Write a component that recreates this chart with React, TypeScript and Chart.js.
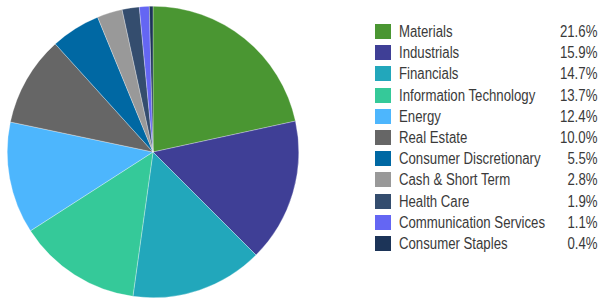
import React, { useEffect, useRef } from "react";
import { Chart, registerables } from "chart.js";

Chart.register(...registerables);

const categories = [
  "Materials",
  "Industrials",
  "Financials",
  "Information Technology",
  "Energy",
  "Real Estate",
  "Consumer Discretionary",
  "Cash & Short Term",
  "Health Care",
  "Communication Services",
  "Consumer Staples",
];
const values = [21.6, 15.9, 14.7, 13.7, 12.4, 10.0, 5.5, 2.8, 1.9, 1.1, 0.4];
const valueLabels = ["21.6%", "15.9%", "14.7%", "13.7%", "12.4%", "10.0%", "5.5%", "2.8%", "1.9%", "1.1%", "0.4%"];
const colors = [
  "#4a9632",
  "#3f3f96",
  "#22a7bb",
  "#35c999",
  "#4db6fd",
  "#666666",
  "#0068a3",
  "#999999",
  "#344d6e",
  "#6466f3",
  "#1c3458",
];

const FONT = '"Liberation Sans", Arial, sans-serif';
const SQUEEZE = 0.825;

export default function App() {
  const ref = useRef<HTMLCanvasElement | null>(null);

  useEffect(() => {
    document.body.style.margin = "0";
    if (!ref.current) return;
    const chart = new Chart(ref.current, {
      type: "pie",
      data: {
        labels: categories,
        datasets: [
          {
            data: values,
            backgroundColor: colors,
            borderColor: "rgba(255,255,255,0.6)",
            borderWidth: 0.5,
          },
        ],
      },
      options: {
        animation: false,
        responsive: true,
        maintainAspectRatio: false,
        layout: { padding: 0 },
        plugins: {
          legend: { display: false },
          tooltip: { enabled: false },
        },
      },
    });
    return () => chart.destroy();
  }, []);

  return (
    <div style={{ position: "relative", width: 599, height: 298, background: "#fff", overflow: "hidden" }}>
      <div style={{ position: "absolute", left: 7, top: 6, width: 292, height: 292 }}>
        <canvas ref={ref} />
      </div>
      <div style={{ position: "absolute", left: 375, top: 21, width: 222 }}>
        {categories.map((c, i) => (
          <div
            key={c}
            style={{
              position: "relative",
              height: 21.2,
              fontFamily: FONT,
              fontSize: 16,
              lineHeight: "21.2px",
              color: "#3a3a3a",
            }}
          >
            <span
              style={{
                position: "absolute",
                left: 0,
                top: 3,
                width: 16,
                height: 15,
                background: colors[i],
              }}
            />
            <span
              style={{
                position: "absolute",
                left: 24,
                top: 0,
                whiteSpace: "nowrap",
                transform: `scaleX(${SQUEEZE})`,
                transformOrigin: "left center",
              }}
            >
              {c}
            </span>
            <span
              style={{
                position: "absolute",
                right: 0,
                top: 0,
                whiteSpace: "nowrap",
                transform: `scaleX(${SQUEEZE})`,
                transformOrigin: "right center",
              }}
            >
              {valueLabels[i]}
            </span>
          </div>
        ))}
      </div>
    </div>
  );
}
